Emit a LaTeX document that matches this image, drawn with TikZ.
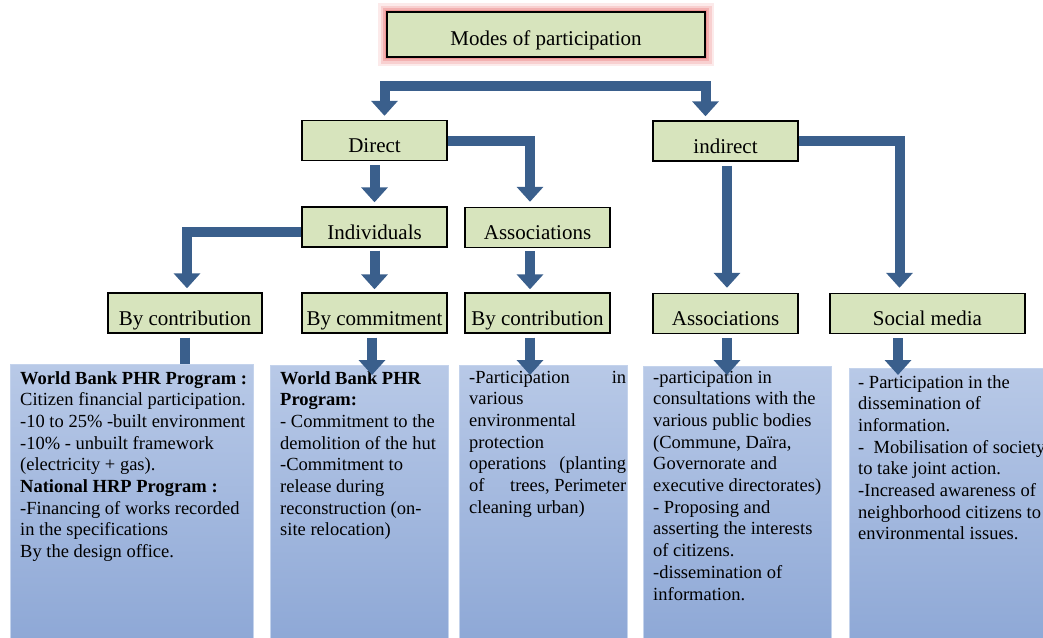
\documentclass[tikz,border=0pt]{standalone}
\usepackage{fontspec}
\setmainfont{Liberation Serif}
\usetikzlibrary{arrows.meta,calc}
\definecolor{boxgreen}{RGB}{215,228,189}
\definecolor{arrowblue}{RGB}{58,95,140}
\definecolor{paneltop}{RGB}{184,201,231}
\definecolor{panelbot}{RGB}{142,168,214}
\definecolor{paneledge}{RGB}{196,211,236}
\definecolor{glowred}{RGB}{232,105,105}
\begin{document}
\begin{tikzpicture}[x=1pt,y=1pt,
  box/.style={draw=black,line width=1.4pt,fill=boxgreen,inner sep=0pt,
    minimum width=145pt,minimum height=40pt,text height=32pt,text depth=8pt,
    font=\fontsize{21}{25}\selectfont},
  glow/.style={preaction={draw=glowred,line width=18pt,opacity=0.14},
    preaction={draw=glowred,line width=13pt,opacity=0.2},
    preaction={draw=glowred,line width=8pt,opacity=0.3},
    preaction={draw=glowred,line width=4pt,opacity=0.4}},
  panel/.style={draw=paneledge,line width=0.8pt,top color=paneltop,bottom color=panelbot,
    inner sep=0pt,anchor=north west},
  ptext/.style={anchor=base west,inner sep=0pt,font=\fontsize{18.5}{21.7}\selectfont},
  arr/.style={draw=arrowblue,line width=10pt,-{Triangle[width=26pt,length=15pt]},shorten >=4pt},
  bar/.style={draw=arrowblue,line width=10pt}]
\path[use as bounding box] (0,0) rectangle (1043,-637);

% boxes
\node[box,glow,minimum width=318pt,minimum height=45pt,text height=33pt,text depth=12pt] (modes) at (546,-34.5) {Modes of participation};
\node[box] (direct) at (374.5,-140.5) {Direct};
\node[box] (indirect) at (725.5,-141) {indirect};
\node[box] (indiv) at (374.5,-227) {Individuals};
\node[box] (assoc) at (537.5,-227.5) {Associations};
\node[box,minimum width=154pt] (bycon1) at (185,-313) {By contribution};
\node[box] (bycom) at (374.5,-313) {By commitment};
\node[box] (bycon2) at (537.5,-313) {By contribution};
\node[box] (assoc2) at (725.5,-313.5) {Associations};
\node[box,minimum width=195pt] (social) at (927.5,-313.5) {Social media};

% panels
\node[panel,minimum width=243pt,minimum height=275pt] (p1) at (10,-364) {};
\node[panel,minimum width=178pt,minimum height=275pt] (p2) at (270,-365) {};
\node[panel,minimum width=168pt,minimum height=275pt] (p3) at (459,-365) {};
\node[panel,minimum width=188pt,minimum height=275pt] (p4) at (643,-366) {};
\node[panel,minimum width=200pt,minimum height=275pt] (p5) at (849,-368) {};

% panel texts
\node[ptext] (t1) at (20,-384) {\parbox[t]{235pt}{\raggedright
\textbf{World Bank PHR Program :}\\
Citizen financial participation.\\
-10 to 25\% -built environment\\
-10\% - unbuilt framework\\
(electricity + gas).\\
\textbf{National HRP Program :}\\
-Financing of works recorded\\
in the specifications\\
By the design office.}};
\node[ptext] (t2) at (280,-384) {\parbox[t]{165pt}{\raggedright
\textbf{World Bank PHR}\\
\textbf{Program:}\\
- Commitment to the\\
demolition of the hut\\
-Commitment to\\
release during\\
reconstruction (on-\\
site relocation)}};
\node[ptext] (t3) at (469,-383) {\parbox[t]{157pt}{\raggedright
-Participation\hfill in\\
various\\
environmental\\
protection\\
operations\hfill (planting\\
of\hfill trees, Perimeter\\
cleaning urban)}};
\node[ptext] (t4) at (653,-383) {\parbox[t]{175pt}{\raggedright
-participation in\\
consultations with the\\
various public bodies\\
(Commune, Daïra,\\
Governorate and\\
executive directorates)\\
- Proposing and\\
asserting the interests\\
of citizens.\\
-dissemination of\\
information.}};
\node[ptext] (t5) at (858,-388) {\parbox[t]{200pt}{\raggedright
- Participation in the\\
dissemination of\\
information.\\
-\ \ Mobilisation of society\\
to take joint action.\\
-Increased awareness of\\
neighborhood citizens to\\
environmental issues.}};

% connectors
\coordinate (split) at ($(modes.south)+(0,-28)$);
\draw[arr] (split) -| ([xshift=10pt]direct.north);
\draw[arr] (split) -| ([xshift=-20pt]indirect.north);
\draw[arr,shorten <=4pt] (direct.south) -- (indiv.north);
\draw[arr,shorten >=5pt] (direct.east) -| ([xshift=-7.5pt]assoc.north);
\draw[arr,shorten <=4pt,shorten >=5pt] ([xshift=1.5pt]indirect.south) -- ([xshift=1.5pt]assoc2.north);
\draw[arr,shorten >=5pt] (indirect.east) -| ([xshift=-28pt]social.north);
\draw[arr] ([yshift=-5pt]indiv.west) -| ([xshift=2pt]bycon1.north);
\draw[arr,shorten <=3pt,shorten >=3pt] (indiv.south) -- (bycom.north);
\draw[arr,shorten <=3pt,shorten >=3pt] ([xshift=-7.5pt]assoc.south) -- ([xshift=-7.5pt]bycon2.north);

\draw[bar,shorten <=4pt] (bycon1.south) -- (bycon1.south |- p1.north);
\draw[arr,shorten <=4pt,shorten >=-10pt] ([xshift=-2.5pt]bycom.south) -- ([xshift=-2.5pt]bycom.south |- p2.north);
\draw[arr,shorten <=4pt,shorten >=-10pt] ([xshift=-7.5pt]bycon2.south) -- ([xshift=-7.5pt]bycon2.south |- p3.north);
\draw[arr,shorten <=4pt,shorten >=-9pt] ([xshift=1.5pt]assoc2.south) -- ([xshift=1.5pt]assoc2.south |- p4.north);
\draw[arr,shorten <=4pt,shorten >=-7pt] ([xshift=-29.5pt]social.south) -- ([xshift=-29.5pt]social.south |- p5.north);
\end{tikzpicture}
\end{document}
